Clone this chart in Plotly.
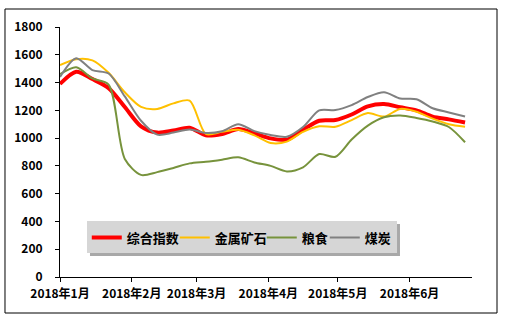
import plotly.graph_objects as go
import pandas as pd

dates = pd.date_range("2018-01-01", periods=26, freq="7D")

composite = [1390, 1478, 1425, 1360, 1224, 1085, 1040, 1055, 1075, 1020, 1030, 1065, 1035,
             998, 988, 1060, 1125, 1130, 1170, 1228, 1245, 1222, 1200, 1155, 1135, 1112]
metal = [1525, 1568, 1560, 1470, 1330, 1225, 1210, 1250, 1270, 1030, 1045, 1060, 1020,
         965, 975, 1045, 1085, 1082, 1130, 1180, 1155, 1210, 1190, 1140, 1100, 1082]
grain = [1460, 1510, 1430, 1385, 850, 735, 755, 785, 818, 830, 845, 862, 825,
         800, 760, 790, 885, 866, 990, 1090, 1150, 1162, 1145, 1120, 1080, 970]
coal = [1440, 1575, 1490, 1465, 1300, 1125, 1025, 1040, 1062, 1037, 1050, 1100, 1050,
        1022, 1010, 1080, 1200, 1202, 1238, 1296, 1330, 1285, 1280, 1215, 1185, 1155]

names = ["综合指数", "金属矿石", "粮食", "煤炭"]
colors = ["#FF0000", "#FFC000", "#77933C", "#808080"]
widths = [4, 2, 2, 2]
legend_widths = [43, 42, 18, 30]
series = [composite, metal, grain, coal]

tick_vals = ["2018-01-01", "2018-02-01", "2018-03-01", "2018-04-01", "2018-05-01", "2018-06-01"]
tick_text = ["2018年1月", "2018年2月", "2018年3月", "2018年4月", "2018年5月", "2018年6月"]

font_family = "Noto Sans CJK SC, Liberation Sans, sans-serif"

fig = go.Figure()
for n, c, w, lw, s in zip(names, colors, widths, legend_widths, series):
    fig.add_trace(go.Scatter(x=dates, y=s, name=n, mode="lines", legendwidth=lw,
                             line=dict(color=c, width=w, shape="spline", smoothing=0.8)))

fig.update_layout(
    width=505, height=324,
    margin=dict(l=60, r=33, t=27, b=47),
    paper_bgcolor="white", plot_bgcolor="white",
    font=dict(family=font_family, size=11, color="black"),
    showlegend=True,
    legend=dict(orientation="h", x=0.065, y=0.158, xanchor="left", yanchor="middle",
                bgcolor="rgba(0,0,0,0)", font=dict(size=13, family=font_family, weight="bold"),
                itemwidth=30, tracegroupgap=0),
    xaxis=dict(type="date", range=["2018-01-01", "2018-06-28"],
               tickvals=tick_vals, ticktext=tick_text,
               showgrid=False, zeroline=False, showline=True, linecolor="black", linewidth=1,
               ticks="outside", ticklen=4, tickcolor="black", ticklabelstandoff=2,
               tickfont=dict(size=12, family=font_family, weight="bold")),
    yaxis=dict(range=[0, 1800], dtick=200, showgrid=False, zeroline=False,
               showline=True, linecolor="black", linewidth=1,
               ticks="outside", ticklen=4, tickcolor="black", ticklabelstandoff=10,
               tickfont=dict(size=12, family=font_family, weight="bold")),
    shapes=[
        dict(type="rect", xref="paper", yref="paper", x0=-0.1335, x1=1.0607, y0=-0.144, y1=1.072,
             line=dict(color="black", width=1), fillcolor="rgba(0,0,0,0)", layer="below"),
        # legend shadow
        dict(type="rect", xref="paper", yref="paper", x0=0.0728, x1=0.8252, y0=0.084, y1=0.212,
             line=dict(width=0), fillcolor="#A8A8A8", layer="below"),
        # legend box
        dict(type="rect", xref="paper", yref="paper", x0=0.0655, x1=0.8180, y0=0.096, y1=0.224,
             line=dict(width=0), fillcolor="#D6D6D6", layer="below"),
    ],
)

fig.write_html("out.html")
